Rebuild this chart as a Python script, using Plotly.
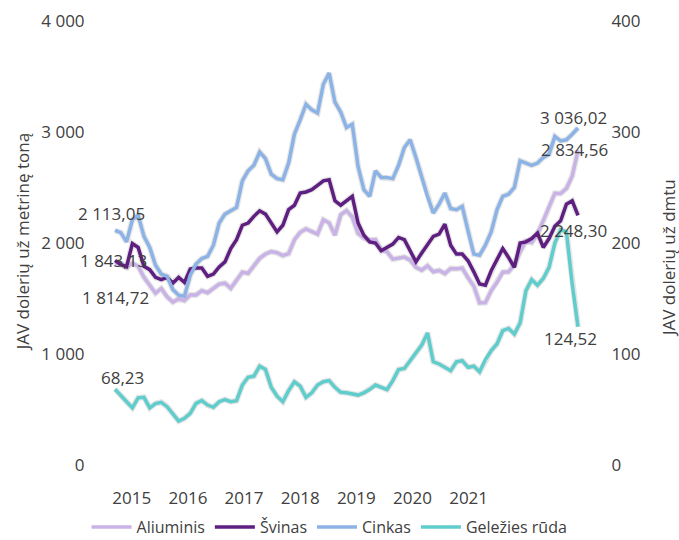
import plotly.graph_objects as go

# monthly averages, Jan 2015 - Sep 2021
MONTHS = [f"{y}-{m:02d}" for y in range(2015, 2022) for m in range(1, 13)][:81]

ALIUMINIS = [
    1814.72, 1818, 1780, 1818, 1790, 1690, 1620, 1548, 1590, 1515, 1468, 1497,
    1481, 1531, 1532, 1571, 1552, 1594, 1630, 1638, 1592, 1664, 1737, 1727,
    1791, 1862, 1901, 1923, 1912, 1886, 1904, 2029, 2096, 2127, 2103, 2080,
    2209, 2181, 2070, 2253, 2292, 2233, 2086, 2045, 2026, 2030, 1938, 1921,
    1854, 1863, 1873, 1845, 1780, 1755, 1795, 1741, 1753, 1725, 1771, 1768,
    1773, 1687, 1611, 1461, 1464, 1571, 1643, 1737, 1741, 1804, 1921, 2017,
    2004, 2080, 2198, 2326, 2447, 2446, 2492, 2603, 2834.56,
]
SVINAS = [
    1843.13, 1804, 1786, 1995, 1960, 1790, 1760, 1690, 1670, 1690, 1640, 1690,
    1645, 1765, 1775, 1775, 1700, 1720, 1785, 1830, 1950, 2030, 2160, 2180,
    2240, 2290, 2260, 2180, 2100, 2160, 2300, 2340, 2450, 2460, 2480, 2520,
    2560, 2570, 2380, 2340, 2380, 2420, 2180, 2070, 2010, 2000, 1930, 1960,
    1990, 2050, 2030, 1930, 1830, 1910, 1980, 2060, 2080, 2170, 1980, 1900,
    1900, 1840, 1740, 1630, 1620, 1750, 1850, 1950, 1870, 1780, 2000, 2010,
    2040, 2090, 1960, 2040, 2150, 2200, 2350, 2380, 2248.30,
]
CINKAS = [
    2113.05, 2094, 2010, 2210, 2250, 2060, 1960, 1800, 1720, 1700, 1580, 1530,
    1520, 1710, 1810, 1860, 1880, 1980, 2180, 2260, 2290, 2320, 2560, 2650,
    2700, 2820, 2760, 2620, 2580, 2570, 2720, 2980, 3110, 3250, 3200, 3170,
    3430, 3530, 3270, 3180, 3040, 3070, 2690, 2480, 2420, 2650, 2590, 2590,
    2580, 2700, 2860, 2930, 2770, 2580, 2420, 2270, 2350, 2450, 2310, 2300,
    2330, 2110, 1900, 1890, 1980, 2100, 2300, 2420, 2440, 2500, 2740, 2720,
    2700, 2720, 2770, 2800, 2960, 2920, 2930, 2980, 3036.02,
]
GELEZIES_RUDA = [
    68.23, 62.7, 57.0, 51.5, 60.5, 61.0, 51.5, 55.3, 56.5, 52.5, 46.0, 39.6,
    42.0, 46.5, 55.5, 58.0, 54.0, 52.0, 57.0, 59.0, 57.0, 58.0, 72.0, 79.0,
    80.0, 89.0, 86.0, 70.0, 62.0, 57.0, 67.0, 75.0, 71.0, 61.0, 65.0, 72.0,
    75.0, 76.0, 70.0, 65.5, 65.0, 64.0, 63.0, 65.0, 68.0, 72.0, 70.0, 68.0,
    76.0, 86.0, 87.0, 94.0, 100.0, 108.0, 119.0, 93.0, 91.0, 88.0, 85.0, 93.0,
    94.0, 88.0, 89.0, 84.0, 95.0, 103.0, 109.0, 121.0, 123.0, 118.0, 128.0, 157.0,
    167.0, 162.0, 168.0, 178.0, 200.0, 212.0, 210.0, 163.0, 124.52,
]

YEAR_LABELS = ["2015", "2016", "2017", "2018", "2019", "2020", "2021"]

INK = "#404040"
FONT = "Open Sans, Lato, Arial, sans-serif"


def lt_number(v):
    return f"{v:,.2f}".replace(",", " ").replace(".", ",")


x = list(range(len(MONTHS)))

series = [
    ("Aliuminis", ALIUMINIS, "#C8B2E6", "y"),
    ("Švinas", SVINAS, "#5E1F80", "y"),
    ("Cinkas", CINKAS, "#8CB3E6", "y"),
    ("Geležies rūda", GELEZIES_RUDA, "#5ECDCB", "y2"),
]

fig = go.Figure()

# faint shadow under each line
for name, vals, color, axis in series:
    fig.add_trace(go.Scatter(
        x=x, y=vals, yaxis=axis, mode="lines", showlegend=False, hoverinfo="skip",
        line=dict(color="rgba(0,0,0,0.10)", width=6),
    ))

for name, vals, color, axis in series:
    fig.add_trace(go.Scatter(
        x=x, y=vals, yaxis=axis, mode="lines", name=name,
        line=dict(color=color, width=3.5),
        customdata=MONTHS,
        hovertemplate="%{customdata}<br>%{y:,.2f}<extra>" + name + "</extra>",
    ))

# first / last value labels (shift in px)
label_shift = {
    "Aliuminis": ((0, -34), (-4, 1)),
    "Švinas": ((-2, 0), (-5, -15)),
    "Cinkas": ((-4, 17), (-5, 11)),
    "Geležies rūda": ((7, 12), (-8, -12)),
}
for name, vals, color, axis in series:
    (sx0, sy0), (sx1, sy1) = label_shift[name]
    for idx, (dx, dy) in ((0, (sx0, sy0)), (len(vals) - 1, (sx1, sy1))):
        fig.add_annotation(
            x=x[idx], y=vals[idx], xref="x", yref=axis, text=lt_number(vals[idx]),
            showarrow=False, xshift=dx, yshift=dy, xanchor="center", yanchor="middle",
            font=dict(size=17, color=INK, family=FONT),
        )

fig.add_annotation(
    text="JAV dolerių už metrinę toną", xref="paper", yref="paper",
    x=-0.18, y=0.502, xanchor="center", yanchor="middle",
    textangle=-90, showarrow=False,
    font=dict(size=17, color=INK, family=FONT),
)
fig.add_annotation(
    text="JAV dolerių už dmtu", xref="paper", yref="paper",
    x=1.174, y=0.466, xanchor="center", yanchor="middle",
    textangle=-90, showarrow=False,
    font=dict(size=17, color=INK, family=FONT),
)

tick_pos = [2.9 + 9.7 * k for k in range(len(YEAR_LABELS))]

fig.update_layout(
    width=679,
    height=540,
    paper_bgcolor="white",
    plot_bgcolor="white",
    separators=", ",
    font=dict(family=FONT, size=17, color=INK),
    margin=dict(l=108, r=94, t=21, b=75, autoexpand=False),
    showlegend=True,
    legend=dict(
        orientation="h", x=-0.045, xanchor="left", y=-0.14, yanchor="middle",
        font=dict(size=16, color=INK), bgcolor="rgba(0,0,0,0)",
        itemwidth=40, tracegroupgap=0,
    ),
    xaxis=dict(
        range=[-1.21, 81.21], showgrid=False, zeroline=False, showline=False,
        tickmode="array", tickvals=tick_pos, ticktext=YEAR_LABELS,
        ticks="outside", ticklen=18, tickcolor="rgba(0,0,0,0)",
    ),
    yaxis=dict(
        range=[0, 4000], dtick=1000, tickformat=",", showgrid=False, zeroline=False,
        showline=False, ticks="outside", ticklen=19, tickcolor="rgba(0,0,0,0)",
    ),
    yaxis2=dict(
        range=[0, 400], dtick=100, overlaying="y", side="right", showgrid=False,
        zeroline=False, showline=False, ticks="outside", ticklen=22,
        tickcolor="rgba(0,0,0,0)",
    ),
)

fig.write_html(
    "out.html",
    config={"displayModeBar": False},
    post_script="document.body.style.margin = '0';",
)
